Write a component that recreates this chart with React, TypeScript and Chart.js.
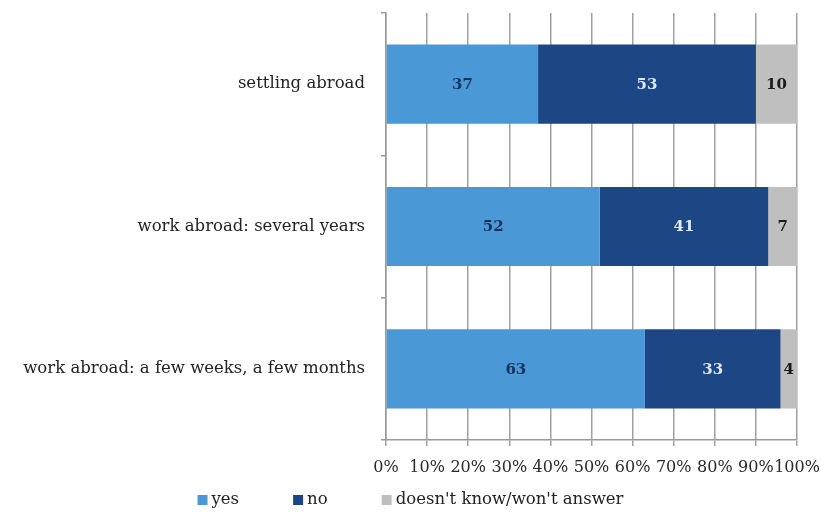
import React, { useEffect, useRef } from "react";
import { Chart, registerables } from "chart.js";

Chart.register(...registerables);

const categories = [
  "settling abroad",
  "work abroad: several years",
  "work abroad: a few weeks, a few months",
];
const seriesNames = ["yes", "no", "doesn't know/won't answer"];
const yesValues = [37, 52, 63];
const noValues = [53, 41, 33];
const dkValues = [10, 7, 4];

const colors = ["#4a98d5", "#1c4684", "#bfbfbf"];
const labelColors = ["#16335f", "#dfe8f5", "#1a1a1a"];

const SERIF = "'DejaVu Serif', serif";

const dataLabelPlugin = {
  id: "dataLabels",
  afterDatasetsDraw(chart: any) {
    const ctx = chart.ctx;
    ctx.save();
    ctx.font = `bold 15px ${SERIF}`;
    ctx.textAlign = "center";
    ctx.textBaseline = "middle";
    chart.data.datasets.forEach((ds: any, di: number) => {
      const meta = chart.getDatasetMeta(di);
      meta.data.forEach((bar: any, i: number) => {
        const v = ds.data[i];
        const cx = (bar.x + bar.base) / 2;
        ctx.fillStyle = labelColors[di];
        ctx.fillText(String(v), cx, bar.y + 1);
      });
    });
    ctx.restore();
  },
};

const legendPlugin = {
  id: "bottomLegend",
  afterDraw(chart: any) {
    const ctx = chart.ctx;
    const box = 10;
    const gapText = 4;
    const gapItem = 54;
    const y = 500;
    ctx.save();
    ctx.font = `16.5px ${SERIF}`;
    ctx.textBaseline = "middle";
    ctx.textAlign = "left";
    const items = chart.data.datasets.map((ds: any) => ({
      text: ds.label,
      color: ds.backgroundColor,
      w: box + gapText + ctx.measureText(ds.label).width,
    }));
    const total =
      items.reduce((s: number, it: any) => s + it.w, 0) + gapItem * (items.length - 1);
    let x = chart.width / 2 - total / 2;
    items.forEach((it: any) => {
      ctx.fillStyle = it.color;
      ctx.fillRect(x, y - box / 2, box, box);
      ctx.fillStyle = "#222";
      ctx.fillText(it.text, x + box + gapText, y);
      x += it.w + gapItem;
    });
    ctx.restore();
  },
};

export default function App() {
  const ref = useRef<HTMLCanvasElement | null>(null);
  useEffect(() => {
    document.body.style.margin = "0";
    const canvas = ref.current!;
    const chart = new Chart(canvas, {
      type: "bar",
      data: {
        labels: categories,
        datasets: [yesValues, noValues, dkValues].map((d, i) => ({
          label: seriesNames[i],
          data: d,
          backgroundColor: colors[i],
          borderWidth: 0,
          barPercentage: 0.556,
          categoryPercentage: 1,
        })),
      },
      options: {
        indexAxis: "y",
        animation: false,
        responsive: false,
        maintainAspectRatio: false,
        layout: { padding: { top: 13, right: 0, left: 0, bottom: 0 } },
        scales: {
          x: {
            stacked: true,
            min: 0,
            max: 100,
            afterFit: (s: any) => {
              s.height = 72;
              s.paddingRight = 24;
              s.paddingLeft = 0;
            },
            ticks: {
              stepSize: 10,
              callback: (v: any) => v + "%",
              color: "#2a2a2a",
              font: { family: SERIF, size: 16 },
              padding: 12,
              maxRotation: 0,
              autoSkip: false,
            },
            grid: { color: "#a0a0a0", lineWidth: 1.5, tickLength: 6 },
            border: { color: "#9a9a9a", width: 1.5 },
          },
          y: {
            stacked: true,
            afterFit: (s: any) => {
              s.width = 386;
              s.paddingTop = 0;
              s.paddingBottom = 0;
            },
            ticks: {
              color: "#222",
              font: { family: SERIF, size: 16.5 },
              padding: 16,
            },
            grid: {
              drawOnChartArea: false,
              offset: true,
              tickLength: 5,
              color: "#9a9a9a",
              lineWidth: 1.5,
            },
            border: { color: "#9a9a9a", width: 1.5 },
          },
        },
        plugins: {
          legend: { display: false },
          tooltip: { enabled: false },
        },
      },
      plugins: [dataLabelPlugin, legendPlugin],
    } as any);
    return () => chart.destroy();
  }, []);
  return (
    <div style={{ width: 821, height: 512 }}>
      <canvas ref={ref} width={821} height={512} style={{ display: "block" }} />
    </div>
  );
}
